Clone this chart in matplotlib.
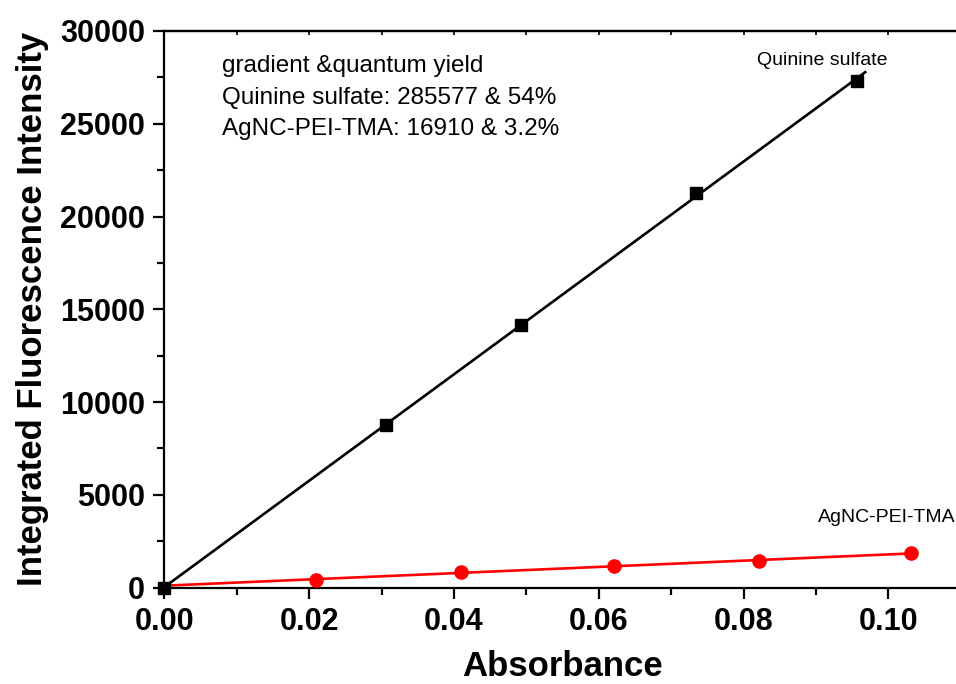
import numpy as np
import matplotlib.pyplot as plt
from matplotlib.ticker import MultipleLocator

plt.rcParams['font.family'] = ['Liberation Sans', 'DejaVu Sans']

# quinine sulfate reference
qs_abs = [0.0, 0.0306, 0.0492, 0.0734, 0.0956]
qs_int = [0, 8780, 14130, 21260, 27300]
# AgNC-PEI-TMA sample
ag_abs = [0.0210, 0.0410, 0.0621, 0.0821, 0.1031]
ag_int = [415, 848, 1172, 1425, 1857]

fig = plt.figure(figsize=(9.56, 6.84), dpi=100)
ax = fig.add_axes([0.172, 0.141, 0.833, 0.8137])

# linear fits
p_qs = np.polyfit(qs_abs, qs_int, 1)
p_ag = np.polyfit(ag_abs, ag_int, 1)
xq = np.array([0, 0.0968])
xa = np.array([0, 0.1031])
ax.plot(xq, np.polyval(p_qs, xq), color='black', lw=1.9, zorder=2)
ax.plot(xa, np.polyval(p_ag, xa), color='red', lw=1.9, zorder=2)

ax.plot(qs_abs, qs_int, 's', color='black', ms=8, zorder=3, clip_on=False)
ax.plot(ag_abs, ag_int, 'o', color='red', ms=9.5, zorder=3, clip_on=False)

ax.set_xlim(0, 0.11)
ax.set_ylim(0, 30000)
ax.xaxis.set_major_locator(MultipleLocator(0.02))
ax.xaxis.set_minor_locator(MultipleLocator(0.01))
ax.yaxis.set_major_locator(MultipleLocator(5000))
ax.yaxis.set_minor_locator(MultipleLocator(2500))
ax.xaxis.set_major_formatter(plt.FormatStrFormatter('%.2f'))

for s in ax.spines.values():
    s.set_linewidth(1.6)

ax.tick_params(which='both', direction='out', width=1.6, top=False, right=False)
ax.tick_params(which='major', length=8, labelsize=22, pad=6)
ax.tick_params(which='minor', length=5)
for lab in ax.get_xticklabels() + ax.get_yticklabels():
    lab.set_fontweight('bold')

# small inward ticks on the top spine
top = ax.secondary_xaxis('top')
top.xaxis.set_major_locator(MultipleLocator(0.01))
top.tick_params(direction='in', length=3, width=1.2, labeltop=False)
top.spines['top'].set_linewidth(1.6)

ax.set_xlabel('Absorbance', fontsize=25, fontweight='bold', labelpad=9)
ax.set_ylabel('Integrated Fluorescence Intensity', fontsize=25, fontweight='bold', labelpad=8)

ax.text(0.0079, 28680, 'gradient &quantum yield\nQuinine sulfate: 285577 & 54%\nAgNC-PEI-TMA: 16910 & 3.2%',
        fontsize=17.5, va='top', ha='left', linespacing=1.55)
ax.text(0.0818, 28400, 'Quinine sulfate', fontsize=14, va='center')
ax.text(0.0903, 3800, 'AgNC-PEI-TMA', fontsize=14, va='center')

fig.savefig('out.png', dpi=100)
